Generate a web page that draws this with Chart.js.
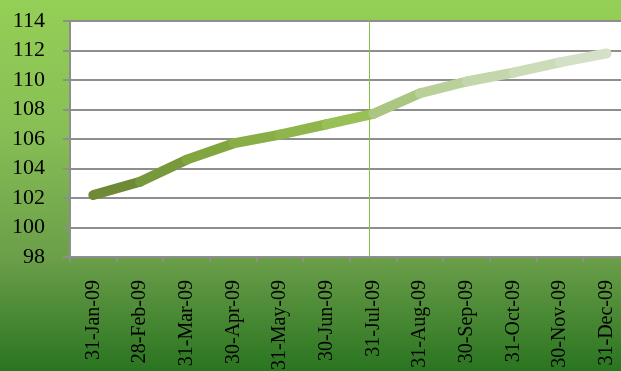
<!DOCTYPE html>
<html>
<head>
<meta charset="utf-8">
<script src="https://cdn.jsdelivr.net/npm/chart.js@4/dist/chart.umd.min.js"></script>
<style>
  html, body { margin: 0; padding: 0; overflow: hidden; background: #2e7a22; }
  #wrap { width: 632px; height: 371px; }
</style>
</head>
<body>
<div id="wrap"><canvas id="myChart" width="632" height="371"></canvas></div>
<script>
// data
const months = ["31-Jan-09", "28-Feb-09", "31-Mar-09", "30-Apr-09", "31-May-09", "30-Jun-09",
                "31-Jul-09", "31-Aug-09", "30-Sep-09", "31-Oct-09", "30-Nov-09", "31-Dec-09"];
const indexValues = [102.2, 103.1, 104.6, 105.7, 106.3, 107.0, 107.7, 109.1, 109.9, 110.5, 111.2, 111.8];
const yTicks = [98, 100, 102, 104, 106, 108, 110, 112, 114];
const markerMonth = 5.9; // vertical marker, just before Jul

// segment shades, dark olive fading to pale green
const segColors = ["#6f8a36", "#78993b", "#82a63f", "#8aae47", "#90b54c", "#99bf57",
                   "#abc680", "#b9d098", "#c4d6ac", "#ccdbb8", "#d5e1c6"];

const bgPlugin = {
  id: "bgPlugin",
  beforeDraw(chart) {
    const c = chart.ctx, a = chart.chartArea;
    const g = c.createLinearGradient(0, 0, 0, chart.height);
    g.addColorStop(0, "#94cf56");
    g.addColorStop(0.35, "#88bf55");
    g.addColorStop(0.7, "#6a9e49");
    g.addColorStop(1, "#2a7420");
    c.save();
    c.fillStyle = g;
    c.fillRect(0, 0, chart.width, chart.height);
    c.fillStyle = "#ffffff";
    c.fillRect(a.left, a.top, a.right - a.left, a.bottom - a.top);
    c.restore();
  },
  beforeDatasetsDraw(chart) {
    const c = chart.ctx, a = chart.chartArea;
    const x = Math.round(chart.scales.x.getPixelForValue(markerMonth)) + 0.5;
    c.save();
    c.strokeStyle = "#84c43c";
    c.lineWidth = 1;
    c.beginPath();
    c.moveTo(x, a.top);
    c.lineTo(x, a.bottom);
    c.stroke();
    c.restore();
  }
};

new Chart(document.getElementById("myChart").getContext("2d"), {
  type: "line",
  data: {
    labels: months,
    datasets: [{
      data: indexValues,
      borderColor: segColors[0],
      borderWidth: 10,
      borderCapStyle: "round",
      borderJoinStyle: "round",
      pointRadius: 0,
      tension: 0,
      segment: {
        borderColor: (ctx) => segColors[ctx.p0DataIndex]
      }
    }]
  },
  options: {
    responsive: false,
    animation: false,
    layout: { padding: { top: 21, right: 2, left: 0, bottom: 0 } },
    plugins: { legend: { display: false }, tooltip: { enabled: false } },
    scales: {
      x: {
        offset: true,
        afterFit: (s) => { s.height = 114; s.paddingLeft = 0; s.paddingRight = 0; },
        grid: { offset: true, drawOnChartArea: false, color: "#8e8e8e", lineWidth: 2, tickLength: 5 },
        border: { color: "#8e8e8e", width: 2 },
        ticks: {
          minRotation: 90, maxRotation: 90, autoSkip: false, padding: 18,
          color: "#000000",
          font: { family: "'Liberation Serif', 'Times New Roman', serif", size: 20 }
        }
      },
      y: {
        min: 98, max: 114,
        afterFit: (s) => { s.width = 70; s.paddingTop = 0; s.paddingBottom = 0; },
        afterBuildTicks: (s) => { s.ticks = yTicks.map((v) => ({ value: v })); },
        grid: { color: "#8e8e8e", lineWidth: 2, tickLength: 7 },
        border: { color: "#8e8e8e", width: 2 },
        ticks: {
          autoSkip: false,
          padding: 18,
          color: "#000000",
          font: { family: "'Liberation Serif', 'Times New Roman', serif", size: 22 }
        }
      }
    }
  },
  plugins: [bgPlugin]
});
</script>
</body>
</html>
